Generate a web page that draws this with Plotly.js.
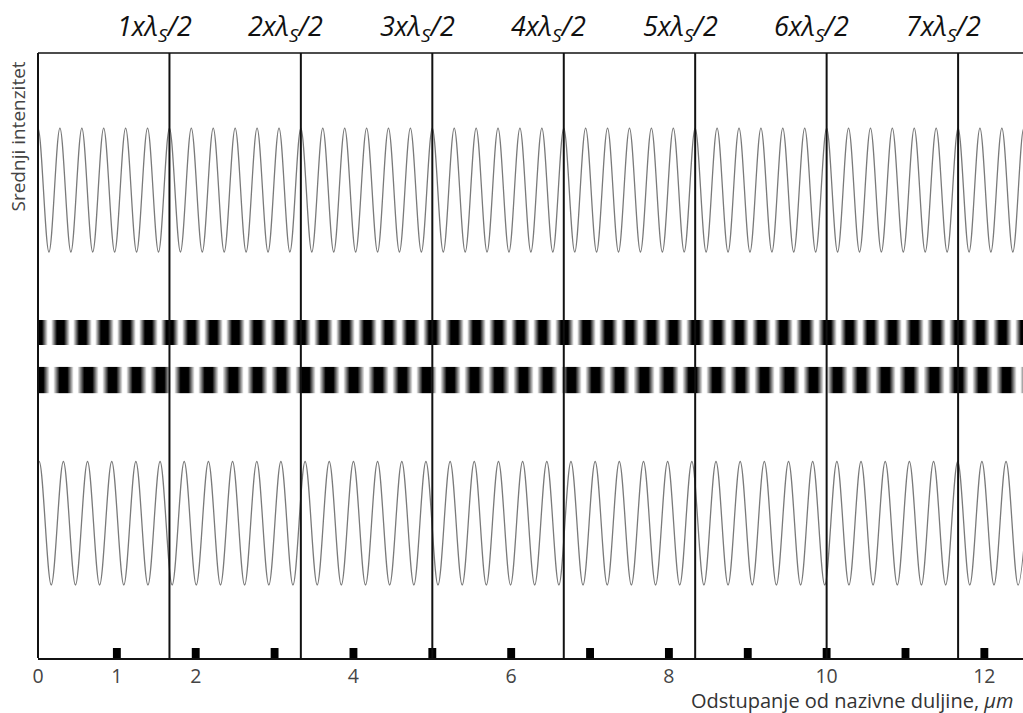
<!DOCTYPE html>
<html>
<head>
<meta charset="utf-8">
<script src="https://cdn.plot.ly/plotly-3.0.1.min.js"></script>
<style>html,body{margin:0;padding:0;background:#fff;}#chart{width:1023px;height:713px;}</style>
</head>
<body>
<div id="chart"></div>
<script>
// Multiples of lambda_S/2 (µm) where the vertical reference lines are drawn
const halfLambdaX = [1.667, 3.333, 5.0, 6.667, 8.333, 10.0, 11.667];
const halfLambdaLabels = ['1xλ<sub>S</sub>/2', '2xλ<sub>S</sub>/2', '3xλ<sub>S</sub>/2', '4xλ<sub>S</sub>/2',
                          '5xλ<sub>S</sub>/2', '6xλ<sub>S</sub>/2', '7xλ<sub>S</sub>/2'];
// Axis ticks
const tickVals = [0, 1, 2, 4, 6, 8, 10, 12];
const tickText = ['0', '1', '2', '4', '6', '8', '10', '12'];
// Black square markers on the axis
const markerX = [1, 2, 3, 4, 5, 6, 7, 8, 9, 10, 11, 12];
const markerH = [1, 1, 1, 1, 1, 1, 1, 1, 1, 1, 1, 1];

// Upper intensity curve: positions of maxima and minima (µm)
const topPeakX = [0, 0.278, 0.556, 0.833, 1.111, 1.389, 1.667, 1.944, 2.222, 2.5, 2.778, 3.056, 3.333, 3.611,
  3.889, 4.167, 4.444, 4.722, 5.0, 5.278, 5.556, 5.833, 6.111, 6.389, 6.667, 6.944, 7.222, 7.5, 7.778, 8.056,
  8.333, 8.611, 8.889, 9.167, 9.444, 9.722, 10.0, 10.278, 10.556, 10.833, 11.111, 11.389, 11.667, 11.944,
  12.222, 12.5];
const topTroughX = [-0.139, 0.139, 0.417, 0.694, 0.972, 1.25, 1.528, 1.806, 2.083, 2.361, 2.639, 2.917, 3.194,
  3.472, 3.75, 4.028, 4.306, 4.583, 4.861, 5.139, 5.417, 5.694, 5.972, 6.25, 6.528, 6.806, 7.083, 7.361, 7.639,
  7.917, 8.194, 8.472, 8.75, 9.028, 9.306, 9.583, 9.861, 10.139, 10.417, 10.694, 10.972, 11.25, 11.528, 11.806,
  12.083, 12.361, 12.639];
// Lower intensity curve
const botPeakX = [0.015, 0.322, 0.628, 0.935, 1.241, 1.548, 1.854, 2.161, 2.467, 2.774, 3.08, 3.387, 3.693, 4.0,
  4.306, 4.613, 4.919, 5.226, 5.532, 5.839, 6.145, 6.452, 6.758, 7.065, 7.371, 7.678, 7.984, 8.291, 8.597, 8.904,
  9.21, 9.517, 9.823, 10.13, 10.436, 10.743, 11.049, 11.356, 11.662, 11.969, 12.275, 12.582];
const botTroughX = [-0.138, 0.168, 0.475, 0.781, 1.088, 1.394, 1.701, 2.007, 2.314, 2.62, 2.927, 3.233, 3.54,
  3.846, 4.153, 4.459, 4.766, 5.072, 5.379, 5.685, 5.992, 6.298, 6.605, 6.911, 7.218, 7.524, 7.831, 8.137, 8.444,
  8.75, 9.057, 9.363, 9.67, 9.976, 10.283, 10.589, 10.896, 11.202, 11.509, 11.815, 12.122, 12.428];
const peakLevel = 1, troughLevel = 0;

function merge(peaks, troughs) {
  const pts = peaks.map(x => [x, peakLevel]).concat(troughs.map(x => [x, troughLevel]));
  pts.sort((a, b) => a[0] - b[0]);
  return {x: pts.map(p => p[0]), y: pts.map(p => p[1])};
}
const upperWave = merge(topPeakX, topTroughX);
const lowerWave = merge(botPeakX, botTroughX);

const waveLine = {color: '#7a7a7a', width: 1.3, shape: 'spline', smoothing: 1};
const fringeScale = [[0, '#ffffff'], [0.15, '#ffffff'], [0.68, '#000000'], [1, '#000000']];

const traces = [
  {type: 'scatter', mode: 'lines', x: upperWave.x, y: upperWave.y, xaxis: 'x', yaxis: 'y', line: waveLine, hoverinfo: 'skip'},
  {type: 'heatmap', x: upperWave.x, y: [0, 1], z: [upperWave.y, upperWave.y], xaxis: 'x', yaxis: 'y2', zsmooth: 'best',
   colorscale: fringeScale, zmin: 0, zmax: 1, showscale: false, hoverinfo: 'skip'},
  {type: 'heatmap', x: lowerWave.x, y: [0, 1], z: [lowerWave.y, lowerWave.y], xaxis: 'x', yaxis: 'y3', zsmooth: 'best',
   colorscale: fringeScale, zmin: 0, zmax: 1, showscale: false, hoverinfo: 'skip'},
  {type: 'scatter', mode: 'lines', x: lowerWave.x, y: lowerWave.y, xaxis: 'x', yaxis: 'y4', line: waveLine, hoverinfo: 'skip'},
  {type: 'bar', x: markerX, y: markerH, width: 0.1, xaxis: 'x', yaxis: 'y5', marker: {color: '#000'}, hoverinfo: 'skip'}
];

const hidden = {showgrid: false, zeroline: false, showticklabels: false, showline: false, ticks: '', fixedrange: true};
const shapes = halfLambdaX.map(x => ({type: 'line', xref: 'x', yref: 'paper', x0: x, x1: x, y0: 0, y1: 1,
  line: {color: '#111', width: 2}}));
shapes.push({type: 'line', xref: 'paper', yref: 'paper', x0: 0, x1: 1, y0: 1, y1: 1, line: {color: '#111', width: 1.5}});
shapes.push({type: 'line', xref: 'paper', yref: 'paper', x0: 0, x1: 0, y0: 0, y1: 1, line: {color: '#111', width: 2}});

const annotations = halfLambdaX.map((x, i) => ({xref: 'x', yref: 'paper', x: x, y: 1, xanchor: 'center',
  yanchor: 'middle', xshift: -15, yshift: 26, showarrow: false, text: '<i>' + halfLambdaLabels[i] + '</i>',
  font: {family: 'Open Sans, sans-serif', size: 27, color: '#111'}}));
annotations.push({xref: 'paper', yref: 'paper', x: -0.0203, y: 0.862, xanchor: 'center', yanchor: 'middle',
  textangle: -90, showarrow: false, text: 'Srednji intenzitet',
  font: {family: 'Open Sans, sans-serif', size: 19, color: '#444'}});
annotations.push({xref: 'paper', yref: 'paper', x: 0.9915, y: 0, xanchor: 'right', yanchor: 'middle', yshift: -42,
  showarrow: false, text: 'Odstupanje od nazivne duljine, <i>μm</i>',
  font: {family: 'Open Sans, sans-serif', size: 20, color: '#333'}});

const layout = {
  width: 1023, height: 713,
  margin: {l: 38, r: 0, t: 53, b: 55, pad: 0},
  paper_bgcolor: '#fff', plot_bgcolor: '#fff',
  showlegend: false,
  xaxis: {range: [0, 12.49], anchor: 'y5', tickvals: tickVals, ticktext: tickText, ticks: '',
    showgrid: false, zeroline: false, showline: true, linecolor: '#111', linewidth: 2,
    tickfont: {family: 'Open Sans, sans-serif', size: 19.5, color: '#444'}, fixedrange: true},
  yaxis: Object.assign({domain: [0.667, 0.880], range: [-0.02, 1.02], anchor: 'x'}, hidden),
  yaxis2: Object.assign({domain: [0.5174, 0.5587], range: [0, 1], anchor: 'x'}, hidden),
  yaxis3: Object.assign({domain: [0.4375, 0.4815], range: [0, 1], anchor: 'x'}, hidden),
  yaxis4: Object.assign({domain: [0.1166, 0.3289], range: [-0.02, 1.02], anchor: 'x'}, hidden),
  yaxis5: Object.assign({domain: [0, 0.0165], range: [0, 1], anchor: 'x'}, hidden),
  shapes: shapes,
  annotations: annotations
};

Plotly.newPlot('chart', traces, layout, {displayModeBar: false, staticPlot: true});
</script>
</body>
</html>
